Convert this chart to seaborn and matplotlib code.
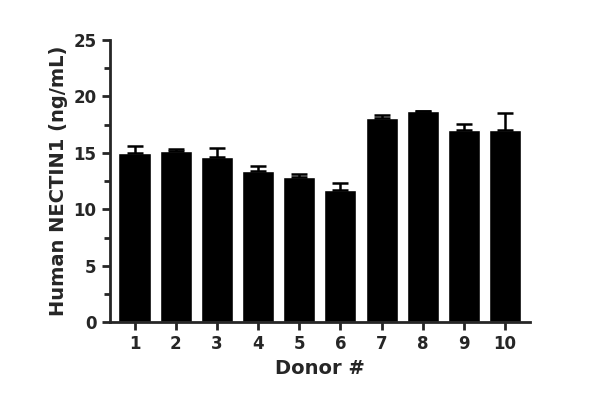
import matplotlib
matplotlib.use("Agg")
import matplotlib.pyplot as plt
import numpy as np
import pandas as pd
import seaborn as sns
from matplotlib.ticker import MultipleLocator

donors = ["1", "2", "3", "4", "5", "6", "7", "8", "9", "10"]
nectin1 = [15.0, 15.2, 14.6, 13.4, 12.9, 11.7, 18.1, 18.7, 17.0, 17.0]
sem = [0.6, 0.15, 0.85, 0.4, 0.2, 0.6, 0.25, 0.03, 0.6, 1.5]

df = pd.DataFrame({"donor": donors, "value": nectin1})

sns.set_style("ticks")
plt.rcParams["font.family"] = ["DejaVu Sans"]
plt.rcParams["font.weight"] = "bold"

fig = plt.figure(figsize=(6, 4.13), dpi=100)
ax = fig.add_axes([0.183, 0.22, 0.70, 0.683])

sns.barplot(data=df, x="donor", y="value", color="black", width=0.78,
            saturation=1, errorbar=None, ax=ax)
ax.errorbar(range(len(donors)), nectin1, yerr=[np.zeros(len(sem)), sem],
            fmt="none", ecolor="black", elinewidth=1.8, capsize=6, capthick=1.8)

ax.set_ylim(0, 25)
ax.set_xlim(-0.6, 9.6)
ax.yaxis.set_major_locator(MultipleLocator(5))
ax.yaxis.set_minor_locator(MultipleLocator(2.5))
ax.tick_params(axis="both", width=2, length=6, labelsize=12)
ax.tick_params(axis="y", which="minor", width=2, length=4)
for lab in ax.get_xticklabels() + ax.get_yticklabels():
    lab.set_fontweight("bold")
for s in ["left", "bottom"]:
    ax.spines[s].set_linewidth(2)
sns.despine(ax=ax)

ax.set_xlabel("Donor #", fontsize=14, fontweight="bold")
ax.set_ylabel("Human NECTIN1 (ng/mL)", fontsize=14, fontweight="bold")

fig.savefig("out.png", dpi=100)
